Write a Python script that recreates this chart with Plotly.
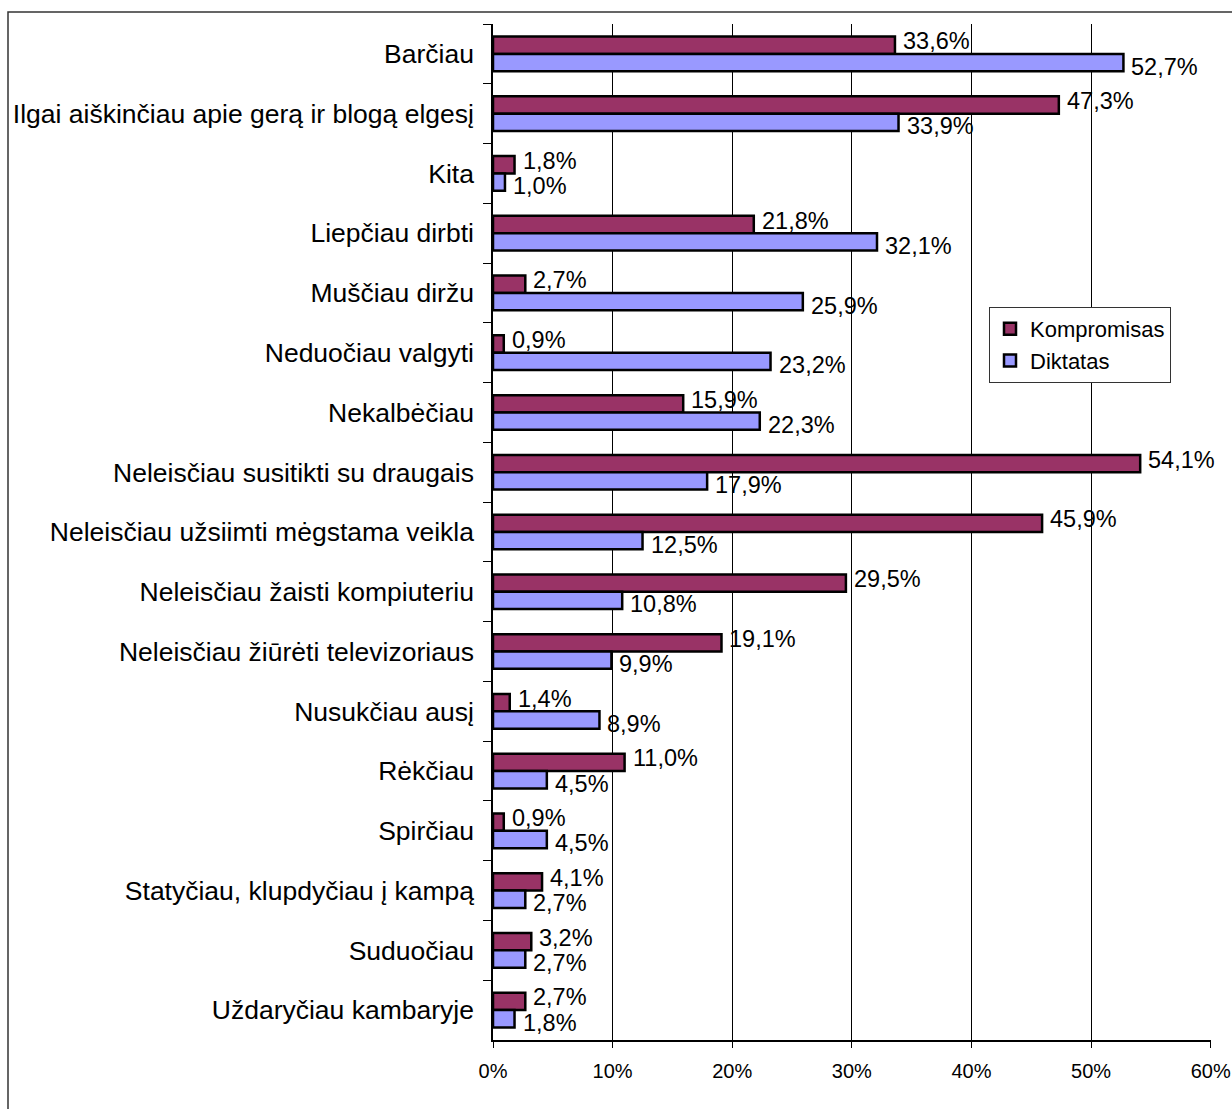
import plotly.graph_objects as go

categories = [
    "Barčiau",
    "Ilgai aiškinčiau apie gerą ir blogą elgesį",
    "Kita",
    "Liepčiau dirbti",
    "Muščiau diržu",
    "Neduočiau valgyti",
    "Nekalbėčiau",
    "Neleisčiau susitikti su draugais",
    "Neleisčiau užsiimti mėgstama veikla",
    "Neleisčiau žaisti kompiuteriu",
    "Neleisčiau žiūrėti televizoriaus",
    "Nusukčiau ausį",
    "Rėkčiau",
    "Spirčiau",
    "Statyčiau, klupdyčiau į kampą",
    "Suduočiau",
    "Uždaryčiau kambaryje",
]
kompromisas = [33.6, 47.3, 1.8, 21.8, 2.7, 0.9, 15.9, 54.1, 45.9, 29.5, 19.1, 1.4, 11.0, 0.9, 4.1, 3.2, 2.7]
diktatas = [52.7, 33.9, 1.0, 32.1, 25.9, 23.2, 22.3, 17.9, 12.5, 10.8, 9.9, 8.9, 4.5, 4.5, 2.7, 2.7, 1.8]
series_names = ["Kompromisas", "Diktatas"]
x_ticks = [0, 10, 20, 30, 40, 50, 60]

W, H = 1232, 1109
L, R, T, B = 493, 21, 24, 69
pw, ph = W - L - R, H - T - B
BARGAP = 0.42
band = ph / len(categories)
half_bar = band * (1 - BARGAP) / 4.0  # half thickness of one bar

colors = ["#993366", "#9999FF"]
label_font = dict(family="Liberation Sans, Arial", size=23.5, color="black")

fig = go.Figure()
for name, vals, color in zip(series_names, [kompromisas, diktatas], colors):
    fig.add_trace(go.Bar(
        name=name, y=categories, x=vals, orientation="h",
        marker=dict(color=color, line=dict(color="black", width=2.5)),
        hoverinfo="x+y",
    ))

annotations = []
for si, vals in enumerate([kompromisas, diktatas]):
    sign = 1 if si == 0 else -1
    for cat, v in zip(categories, vals):
        annotations.append(dict(
            x=v, y=cat, xref="x", yref="y",
            text=(f"{v:.1f}%").replace(".", ","),
            showarrow=False, xanchor="left", yanchor="middle",
            xshift=6, yshift=sign * (half_bar + 4),
            font=label_font,
        ))

fig.update_layout(
    width=W, height=H, autosize=False,
    margin=dict(l=L, r=R, t=T, b=B, pad=0),
    paper_bgcolor="white", plot_bgcolor="white",
    barmode="group", bargap=BARGAP, bargroupgap=0,
    separators=",.",
    font=dict(family="Liberation Sans, Arial", color="black"),
    legend=dict(
        x=(989 - L) / pw, y=1 - (307 - T) / ph, xanchor="left", yanchor="top",
        bordercolor="#333333", borderwidth=1, bgcolor="white",
        font=dict(size=22, family="Liberation Sans, Arial"),
        traceorder="normal", itemwidth=30,
    ),
    xaxis=dict(
        range=[0, 60.02], tickvals=x_ticks, ticktext=[f"{t}%" for t in x_ticks],
        showgrid=True, gridcolor="black", gridwidth=1, automargin=False,
        zeroline=False, showline=True, linecolor="black", linewidth=1.5,
        ticks="outside", ticklen=6, tickcolor="black", ticklabelstandoff=6,
        tickfont=dict(size=20, family="Liberation Sans, Arial"),
    ),
    yaxis=dict(
        autorange="reversed", showline=True, linecolor="black", linewidth=1.5,
        ticks="outside", ticklen=8, tickcolor="black", tickson="boundaries",
        showgrid=False, ticklabelstandoff=12, automargin=False,
        tickfont=dict(size=26.5, family="Liberation Sans, Arial"),
    ),
    annotations=annotations,
    shapes=[dict(
        type="rect", xref="paper", yref="paper",
        x0=(8 - L) / pw, x1=(W + 20 - L) / pw,
        y0=1 - (H + 20 - T) / ph, y1=1 - (12 - T) / ph,
        line=dict(color="#333333", width=1.5), fillcolor="rgba(0,0,0,0)",
        layer="below",
    )],
)

fig.write_html(
    "out.html",
    config={"displayModeBar": False, "responsive": False},
    post_script="document.body.style.margin='0';document.body.style.overflow='hidden';",
)
